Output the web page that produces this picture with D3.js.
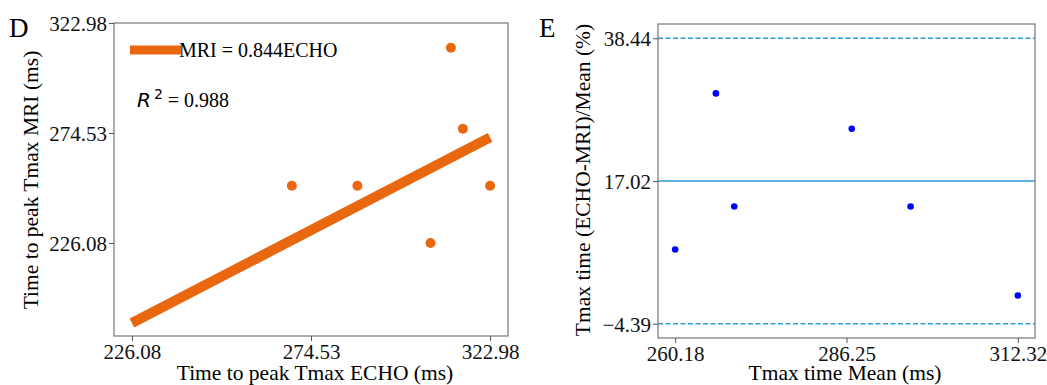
<!DOCTYPE html>
<html lang="en">
<head>
  <meta charset="UTF-8">
  <title>Tmax ECHO vs MRI</title>
  <style>
    body { margin: 0; background: #fff; }
    svg, svg text { font-family: "Liberation Serif", "Times New Roman", serif; }
    .tick line { stroke: #555; }
    .frame { fill: none; stroke: #777; stroke-width: 1.2; }
  </style>
</head>
<body>
  <script src="https://d3js.org/d3.v7.min.js"></script>
  <script>
    // panel D: ECHO vs MRI time to peak (ms)
    const echoVals = [269.35, 287.08, 306.86, 312.37, 315.61, 322.98]
    const mriVals = [251.3, 251.3, 226.08, 312.1, 276.4, 251.3]
    const slope = 0.844
    const fitRange = [226.08, 322.98]
    const dTicks = [226.08, 274.53, 322.98]

    // panel E: Bland-Altman
    const baMean = [260.18, 266.38, 269.17, 287.05, 296.0, 312.32]
    const baDiff = [6.75, 30.17, 13.21, 24.87, 13.21, -0.15]
    const baLines = [38.44, 17.02, -4.39] // upper limit, mean, lower limit
    const eXTicks = [260.18, 286.25, 312.32]
    const eYTicks = [-4.39, 17.02, 38.44]

    const orange = '#e9670f'
    const cyan = '#2a9ad8'
    const serif = '"Liberation Serif", "Times New Roman", serif'

    const svg = d3.select('body').append('svg')
      .attr('width', 1047)
      .attr('height', 385)
      .style('display', 'block')

    const fmt = d => d < 0 ? '\u2212' + Math.abs(d).toFixed(2) : d.toFixed(2)

    function frame(g, x, y) {
      g.append('rect').attr('class', 'frame')
        .attr('x', x.range()[0]).attr('y', y.range()[1])
        .attr('width', x.range()[1] - x.range()[0])
        .attr('height', y.range()[0] - y.range()[1])
    }

    function styleTicks(a) {
      a.attr('font-family', serif).attr('font-size', 21)
      a.select('.domain').remove()
      a.selectAll('.tick text')
        .style('font-family', serif)
        .style('font-size', '21px')
        .attr('fill', '#111')
    }

    function axes(g, x, y, xt, yt) {
      g.append('g')
        .attr('transform', `translate(0,${y.range()[0]})`)
        .call(d3.axisBottom(x).tickValues(xt).tickFormat(fmt).tickSize(5).tickPadding(3))
        .call(styleTicks)
      g.append('g')
        .attr('transform', `translate(${x.range()[0]},0)`)
        .call(d3.axisLeft(y).tickValues(yt).tickFormat(fmt).tickSize(5).tickPadding(2))
        .call(styleTicks)
        .selectAll('.tick text').attr('dy', '0.36em')
    }

    // ---- panel D ----
    const xD = d3.scaleLinear().domain([221.235, 327.825]).range([114, 508])
    const yD = d3.scaleLinear().domain([185.1, 322.98]).range([336, 23])
    const gD = svg.append('g')

    gD.append('line')
      .attr('x1', xD(fitRange[0])).attr('y1', yD(fitRange[0] * slope))
      .attr('x2', xD(fitRange[1])).attr('y2', yD(fitRange[1] * slope))
      .attr('stroke', orange).attr('stroke-width', 10)

    gD.selectAll('circle')
      .data(echoVals.map((e, i) => [e, mriVals[i]]))
      .join('circle')
      .attr('cx', d => xD(d[0])).attr('cy', d => yD(d[1]))
      .attr('r', 5).attr('fill', orange)

    frame(gD, xD, yD)
    axes(gD, xD, yD, dTicks, dTicks)

    // legend + r squared
    gD.append('line')
      .attr('x1', 130).attr('x2', 181).attr('y1', 50).attr('y2', 50)
      .attr('stroke', orange).attr('stroke-width', 9)
    gD.append('text').attr('x', 179).attr('y', 57)
      .attr('font-size', 20).text('MRI = 0.844ECHO')
    const r2 = gD.append('text').attr('x', 137).attr('y', 107).attr('font-size', 20)
    r2.append('tspan').style('font-family', 'DejaVu Sans').attr('font-style', 'italic').text('R')
    r2.append('tspan').style('font-family', 'DejaVu Sans').attr('font-size', 14).attr('dy', -8).attr('dx', 3).text('2')
    r2.append('tspan').attr('dy', 8).text(' = 0.988')

    gD.append('text').attr('x', 315).attr('y', 380).attr('text-anchor', 'middle')
      .attr('font-size', 21.5).text('Time to peak Tmax ECHO (ms)')
    gD.append('text').attr('transform', 'translate(38,180) rotate(-90)').attr('text-anchor', 'middle')
      .attr('font-size', 21.5).text('Time to peak Tmax MRI (ms)')
    gD.append('text').attr('x', 9).attr('y', 37).attr('font-size', 27).text('D')

    // ---- panel E ----
    const xE = d3.scaleLinear().domain([257.57, 314.93]).range([658, 1035])
    const yE = d3.scaleLinear().domain([-6.53, 40.58]).range([338, 24])
    const gE = svg.append('g')

    gE.selectAll('line.ba')
      .data(baLines)
      .join('line').attr('class', 'ba')
      .attr('x1', xE.range()[0]).attr('x2', xE.range()[1])
      .attr('y1', d => yE(d)).attr('y2', d => yE(d))
      .attr('stroke', cyan).attr('stroke-width', 1.4)
      .attr('stroke-dasharray', (d, i) => i === 1 ? null : '5,2.5')

    gE.selectAll('circle')
      .data(baMean.map((m, i) => [m, baDiff[i]]))
      .join('circle')
      .attr('cx', d => xE(d[0])).attr('cy', d => yE(d[1]))
      .attr('r', 3.3).attr('fill', '#0000ff')

    frame(gE, xE, yE)
    axes(gE, xE, yE, eXTicks, eYTicks)

    gE.append('text').attr('x', 845).attr('y', 380).attr('text-anchor', 'middle')
      .attr('font-size', 21.5).text('Tmax time Mean (ms)')
    gE.append('text').attr('transform', 'translate(590,180) rotate(-90)').attr('text-anchor', 'middle')
      .attr('font-size', 21.5).text('Tmax time (ECHO-MRI)/Mean (%)')
    gE.append('text').attr('x', 539).attr('y', 37).attr('font-size', 27).text('E')
  </script>
</body>
</html>
